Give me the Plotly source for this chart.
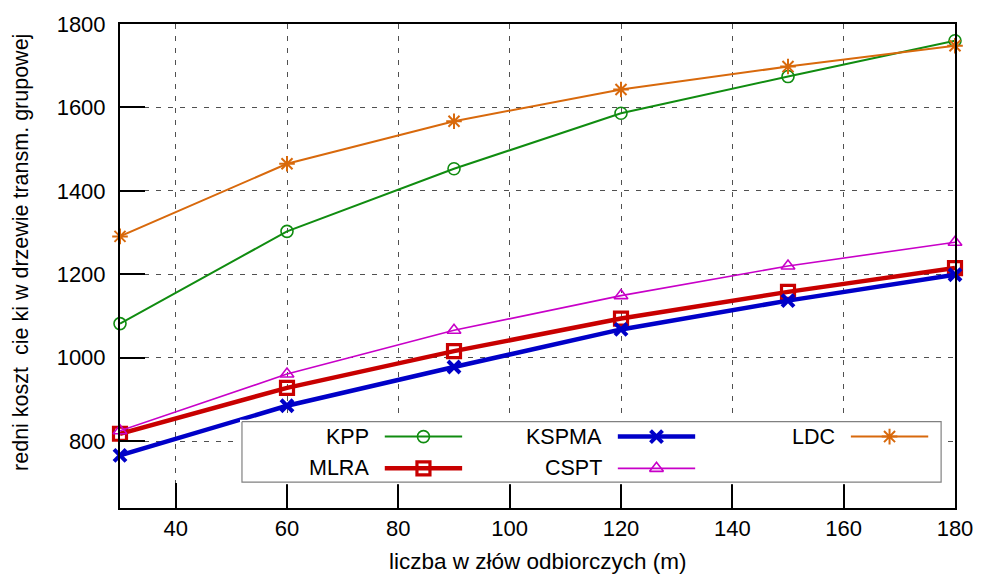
import plotly.graph_objects as go

# ---- data ----
m_values = [30, 60, 90, 120, 150, 180]
kpp = [1082, 1303, 1453, 1586, 1674, 1760]
mlra = [818, 928, 1016, 1094, 1158, 1215]
kspma = [766, 885, 978, 1068, 1137, 1199]
cspt = [825, 961, 1066, 1149, 1220, 1277]
ldc = [1291, 1465, 1567, 1643, 1698, 1748]

series_names = ["KPP", "MLRA", "KSPMA", "CSPT", "LDC"]
series_values = [kpp, mlra, kspma, cspt, ldc]
x_ticks = [40, 60, 80, 100, 120, 140, 160, 180]
y_ticks = [800, 1000, 1200, 1400, 1600, 1800]

x_title = "liczba w złów odbiorczych (m)"
y_title = "redni koszt  cie ki w drzewie transm. grupowej"

# ---- styles ----
styles = [
    dict(color="#108c10", lw=2, sym="circle-open", size=12, mlw=1.6),
    dict(color="#c80000", lw=4.5, sym="square-open", size=13, mlw=3.2),
    dict(color="#0000c8", lw=4.5, sym="x-thin", size=12, mlw=4),
    dict(color="#c800c8", lw=1.6, sym="triangle-up-open", size=12, mlw=1.6),
    dict(color="#d8690c", lw=2, sym="asterisk", size=13, mlw=2),
]

FONT = "Liberation Sans, Arial, sans-serif"
TICK_FS = 22
LEG_FS = 21.5
XT_FS = 22.5
YT_FS = 21.5

# pixel geometry of the plot area
W, H = 985, 575
PL, PR, PT, PB = 120, 962, 20, 508
pw, ph = PR - PL, PB - PT

def px_x(px):
    return (px - PL) / pw

def px_y(py):
    return (PB - py) / ph

fig = go.Figure()

for name, vals, st in zip(series_names, series_values, styles):
    fig.add_trace(go.Scatter(
        x=m_values, y=vals, name=name, mode="lines+markers",
        line=dict(color=st["color"], width=st["lw"]),
        marker=dict(symbol=st["sym"], size=st["size"], color=st["color"],
                    line=dict(color=st["color"], width=st["mlw"])),
        cliponaxis=False, showlegend=False,
        xaxis="x", yaxis="y",
    ))

# ---- custom legend (gnuplot style: text right-aligned, sample to the right) ----
LX0, LX1, LY0, LY1 = 241, 950, 419, 484
box = dict(x0=243, x1=948, y0=421, y1=482)
fig.add_trace(go.Scatter(
    x=[box["x0"], box["x1"], box["x1"], box["x0"], box["x0"]],
    y=[box["y0"], box["y0"], box["y1"], box["y1"], box["y0"]],
    mode="lines", fill="toself", fillcolor="white",
    line=dict(color="#808080", width=1.2),
    hoverinfo="skip", showlegend=False, xaxis="x2", yaxis="y2",
))

col_text_end = [373, 608, 843]
row_y = [436, 468]
annotations = []
for i, (name, st) in enumerate(zip(series_names, styles)):
    col, row = divmod(i, 2)
    te = col_text_end[col]
    yy = row_y[row]
    x_a, x_b = te + 14, te + 92
    fig.add_trace(go.Scatter(
        x=[x_a, x_b], y=[yy, yy], mode="lines",
        line=dict(color=st["color"], width=st["lw"]),
        hoverinfo="skip", showlegend=False, xaxis="x2", yaxis="y2",
    ))
    fig.add_trace(go.Scatter(
        x=[(x_a + x_b) / 2], y=[yy], mode="markers",
        marker=dict(symbol=st["sym"], size=st["size"], color=st["color"],
                    line=dict(color=st["color"], width=st["mlw"])),
        hoverinfo="skip", showlegend=False, xaxis="x2", yaxis="y2",
    ))
    annotations.append(dict(
        x=te, y=yy, xref="x2", yref="y2", text=name, showarrow=False,
        xanchor="right", yanchor="middle", font=dict(family=FONT, size=LEG_FS, color="black"),
    ))

annotations.append(dict(
    x=0.5, y=px_y(562), xref="paper", yref="paper", text=x_title, showarrow=False,
    xanchor="center", yanchor="middle", font=dict(family=FONT, size=XT_FS, color="black"),
))
annotations.append(dict(
    x=px_x(20), y=px_y(250), xref="paper", yref="paper", text=y_title, showarrow=False,
    textangle=-90, xanchor="center", yanchor="middle",
    font=dict(family=FONT, size=YT_FS, color="black"),
))

grid_style = dict(showgrid=True, gridcolor="#505050", gridwidth=1, griddash="5px,7px")

fig.update_layout(
    width=W, height=H,
    margin=dict(l=PL, r=W - PR, t=PT, b=H - PB, pad=0),
    paper_bgcolor="white", plot_bgcolor="white",
    font=dict(family=FONT, size=TICK_FS, color="black"),
    showlegend=False,
    annotations=annotations,
    xaxis=dict(
        range=[30, 180], tickvals=x_ticks, ticktext=[str(v) for v in x_ticks],
        ticks="inside", ticklen=25, tickwidth=2, tickcolor="black",
        showline=True, linecolor="black", linewidth=2, mirror=True,
        zeroline=False, ticklabelstandoff=0, domain=[0, 1],
        tickfont=dict(family=FONT, size=TICK_FS, color="black"),
        **grid_style,
    ),
    yaxis=dict(
        range=[640, 1800], tickvals=y_ticks, ticktext=[str(v) for v in y_ticks],
        ticks="inside", ticklen=25, tickwidth=2, tickcolor="black",
        showline=True, linecolor="black", linewidth=2, mirror=True,
        zeroline=False, ticklabelstandoff=8, domain=[0, 1],
        tickfont=dict(family=FONT, size=TICK_FS, color="black"),
        **grid_style,
    ),
    xaxis2=dict(
        domain=[px_x(LX0), px_x(LX1)], range=[LX0, LX1], anchor="y2",
        visible=False, showgrid=False, zeroline=False, fixedrange=True,
    ),
    yaxis2=dict(
        domain=[px_y(LY1), px_y(LY0)], range=[LY1, LY0], anchor="x2",
        visible=False, showgrid=False, zeroline=False, fixedrange=True,
    ),
)

fig.write_html("out.html")
